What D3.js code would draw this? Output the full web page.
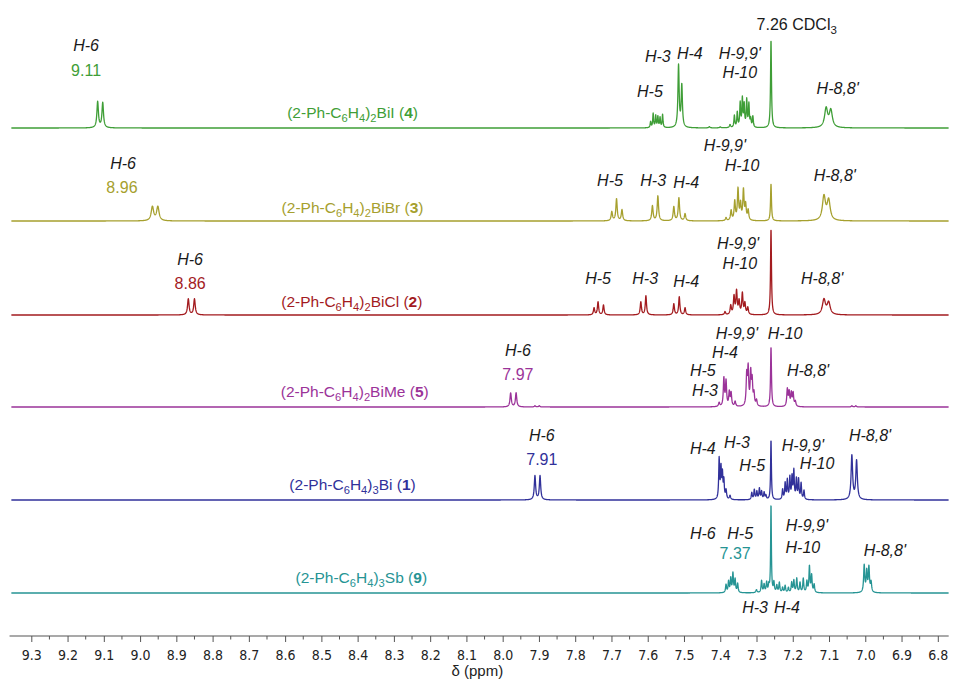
<!DOCTYPE html>
<html>
<head>
<meta charset="utf-8">
<title>1H NMR stack</title>
<script src="https://d3js.org/d3.v7.min.js"></script>
<style>
  body { margin: 0; background: #fff; }
  svg text { font-family: Arial, "Liberation Sans", sans-serif; }
  .hl { font-style: italic; font-size: 16px; fill: #1a1a1a; }
  .shift { font-size: 16px; }
  .solv { font-size: 16px; fill: #1a1a1a; }
  .cmpd { font-size: 15.5px; }
  .axis text { font-family: "DejaVu Sans Condensed", "DejaVu Sans", sans-serif; font-size: 14px; fill: #222; }
</style>
</head>
<body>
<svg id="chart" width="958" height="679"></svg>
<script>
// tick labels of the ppm axis
var ppmTicks = [9.3, 9.2, 9.1, 9.0, 8.9, 8.8, 8.7, 8.6, 8.5, 8.4, 8.3, 8.2, 8.1, 8.0,
                7.9, 7.8, 7.7, 7.6, 7.5, 7.4, 7.3, 7.2, 7.1, 7.0, 6.9, 6.8];

// compound names (_x = subscript, *x* = bold)
var compounds = ["(2-Ph-C_6H_4)_2BiI (*4*)", "(2-Ph-C_6H_4)_2BiBr (*3*)", "(2-Ph-C_6H_4)_2BiCl (*2*)",
                 "(2-Ph-C_6H_4)_2BiMe (*5*)", "(2-Ph-C_6H_4)_3Bi (*1*)", "(2-Ph-C_6H_4)_3Sb (*9*)"];

// peak lists: [ppm, intensity, half width (ppm)]
var peaksBiI = [[9.117,26,.0025],[9.103,25,.0025],
  [7.592,6,.0014],[7.585,14,.0014],[7.578,12,.0014],[7.572,11,.0014],[7.566,10,.0014],[7.559,13,.0014],
  [7.515,62,.002],[7.506,42,.002],[7.43,1.2,.002],[7.40,1,.002],
  [7.373,3,.002],[7.361,12,.0015],[7.353,15,.0015],[7.345,24,.0015],[7.339,28,.0015],[7.334,22,.0015],
  [7.327,27,.0015],[7.321,23,.0015],[7.316,8,.0015],[7.310,11,.0015],
  [7.260,88,.0015],[7.108,19,.005],[7.095,17,.005]];
var peaksBiBr = [[8.966,14,.004],[8.951,14,.004],
  [7.699,9,.0022],[7.686,22,.0022],[7.671,11,.0022],
  [7.587,15,.0022],[7.572,25,.0022],
  [7.528,14,.0022],[7.514,23,.0022],[7.497,7,.0022],
  [7.384,3,.002],[7.370,10,.002],[7.360,19,.002],[7.351,31,.002],[7.344,16,.002],[7.336,30,.002],[7.330,15,.002],[7.323,10,.002],
  [7.260,37,.0015],[7.114,24,.005],[7.101,20,.005]];
var peaksBiCl = [[8.867,16,.0025],[8.850,16,.0025],
  [7.748,7,.002],[7.737,13,.002],[7.722,10,.002],
  [7.619,13,.002],[7.605,19,.002],
  [7.528,11,.002],[7.513,18,.002],[7.497,7,.002],
  [7.387,3,.002],[7.371,9,.002],[7.362,18,.002],[7.355,23,.002],[7.348,13,.002],[7.339,21,.002],[7.332,11,.002],[7.324,7,.002],
  [7.260,86,.0015],[7.114,15,.005],[7.101,12,.005]];
var peaksBiMe = [[7.978,14,.0022],[7.963,14,.0022],[7.911,1.2,.002],[7.899,1.2,.002],
  [7.403,4,.002],[7.390,28,.0018],[7.384,25,.0018],[7.375,14,.0018],[7.370,13,.0018],[7.359,5,.002],
  [7.327,30,.0018],[7.323,36,.0018],[7.316,32,.0018],[7.312,24,.0018],[7.307,12,.0018],[7.300,6,.002],
  [7.260,60,.0015],
  [7.215,17,.0018],[7.210,14,.0018],[7.204,13,.0018],[7.199,13,.0018],[7.193,5,.002],
  [7.037,1.2,.002],[7.026,1.2,.002]];
var peaksBi = [[7.911,24,.0022],[7.897,24,.0022],
  [7.403,40,.0015],[7.398,30,.0015],[7.394,24,.0015],[7.390,18,.0015],[7.384,9,.0018],[7.373,4,.002],
  [7.313,7,.0016],[7.306,10,.0016],[7.299,8,.0016],[7.292,11,.0016],[7.286,8,.0016],[7.279,7,.0016],[7.274,4,.0016],
  [7.260,60,.0013],
  [7.228,10,.0015],[7.221,16,.0015],[7.215,19,.0015],[7.208,22,.0015],[7.202,22,.0015],[7.197,28,.0015],
  [7.190,20,.0015],[7.184,20,.0015],[7.177,16,.0015],[7.169,9,.0015],
  [7.037,44,.0025],[7.024,39,.0025]];
var peaksSb = [[7.384,8,.0016],[7.377,11,.0016],[7.371,14,.0016],[7.365,19,.0016],[7.359,13,.0016],[7.352,9,.0016],
  [7.300,3,.002],
  [7.286,12,.0016],[7.279,8,.0016],[7.272,10,.0016],[7.266,7,.0016],
  [7.260,88,.0012],
  [7.252,10,.0016],[7.244,7,.0016],[7.237,10,.0016],[7.228,5,.0016],[7.221,7,.0016],[7.212,5,.0016],
  [7.203,10,.0016],[7.197,12,.0016],[7.189,14,.0016],[7.180,10,.0016],[7.171,14,.0016],[7.161,11,.0016],
  [7.154,26,.0016],[7.148,17,.0016],[7.141,8,.0016],
  [7.003,27,.0018],[6.996,21,.0018],[6.990,25,.0018],[6.984,10,.0018]];

// assignments: [text, ppm, height above baseline, kind]  h = proton, s = shift, c = solvent
var notesBiI = [["H-6",9.149,83,"h"],["9.11",9.149,58,"s"],["H-5",7.594,37,"h"],["H-3",7.572,72,"h"],
  ["H-4",7.484,75,"h"],["H-9,9'",7.346,75,"h"],["H-10",7.346,56,"h"],["7.26 CDCl_3",7.189,104,"c"],["H-8,8'",7.076,40,"h"]];
var notesBiBr = [["H-6",9.047,58,"h"],["8.96",9.050,34,"s"],["H-5",7.704,41,"h"],["H-3",7.585,41,"h"],
  ["H-4",7.494,39,"h"],["H-9,9'",7.387,76,"h"],["H-10",7.340,56,"h"],["H-8,8'",7.084,46,"h"]];
var notesBiCl = [["H-6",8.862,56,"h"],["8.86",8.862,32,"s"],["H-5",7.737,37,"h"],["H-3",7.607,37,"h"],
  ["H-4",7.494,34,"h"],["H-9,9'",7.351,72,"h"],["H-10",7.346,52,"h"],["H-8,8'",7.119,37,"h"]];
var notesBiMe = [["H-6",7.958,57,"h"],["7.97",7.958,33,"s"],["H-9,9'",7.354,74,"h"],["H-10",7.221,74,"h"],
  ["H-4",7.387,55,"h"],["H-5",7.448,37,"h"],["H-3",7.442,17,"h"],["H-8,8'",7.158,37,"h"]];
var notesBi = [["H-6",7.892,65,"h"],["7.91",7.892,41,"s"],["H-4",7.448,52,"h"],["H-3",7.354,58,"h"],
  ["H-5",7.312,35,"h"],["H-9,9'",7.172,55,"h"],["H-10",7.133,37,"h"],["H-8,8'",6.987,65,"h"]];
var notesSb = [["H-6",7.448,60,"h"],["H-5",7.345,60,"h"],["7.37",7.359,40,"s"],["H-9,9'",7.161,68,"h"],
  ["H-10",7.172,46,"h"],["H-8,8'",6.946,43,"h"],["H-3",7.304,-14,"h"],["H-4",7.216,-14,"h"]];

// layout
var width = 958, height = 679;
var baselines = [128, 221, 315, 407, 500, 593];
var colors = ["#3f9e37", "#a6a02e", "#a31b1f", "#9b3399", "#31319a", "#269494"];
var labelPpm = [8.414, 8.414, 8.416, 8.408, 8.414, 8.390];
var labelRise = [10, 8, 8, 10, 10, 10];
var axisY = 636;

var svg = d3.select("#chart");
var x = d3.scaleLinear().domain([9.3, 6.8]).range([31.3, 937.8]);

var spectra = [peaksBiI, peaksBiBr, peaksBiCl, peaksBiMe, peaksBi, peaksSb];
var notes = [notesBiI, notesBiBr, notesBiCl, notesBiMe, notesBi, notesSb];

// sampling grid across the plotted window
var grid = d3.range(9.355, 6.770, -0.0004);
function lorentz(peaks) {
  return grid.map(function(p) {
    return [p, d3.sum(peaks, function(k) { return k[1] * k[2] * k[2] / ((p - k[0]) * (p - k[0]) + k[2] * k[2]); })];
  });
}

// writes "_x" as subscript and "*x*" as bold
function rich(sel, str) {
  var bold = false, lifted = 0;
  for (var i = 0; i < str.length; i++) {
    var c = str[i];
    if (c === "*") { bold = !bold; continue; }
    if (c === "_") {
      i++;
      sel.append("tspan").attr("dy", 4).attr("font-size", "0.72em").text(str[i]);
      lifted = -4;
      continue;
    }
    sel.append("tspan")
      .attr("dy", lifted || null)
      .attr("font-weight", bold ? "bold" : null)
      .text(c);
    lifted = 0;
  }
}

spectra.forEach(function(peaks, i) {
  var y = d3.scaleLinear().domain([0, 100]).range([baselines[i], baselines[i] - 100]);
  var line = d3.line().x(function(d) { return x(d[0]); }).y(function(d) { return y(d[1]); });

  svg.append("path")
    .datum(lorentz(peaks))
    .attr("d", line)
    .attr("fill", "none")
    .attr("stroke", colors[i])
    .attr("stroke-width", 1.3)
    .attr("stroke-linejoin", "round");

  var cl = svg.append("text")
    .attr("class", "cmpd")
    .attr("x", x(labelPpm[i]))
    .attr("y", y(labelRise[i]))
    .attr("text-anchor", "middle")
    .attr("fill", colors[i]);
  rich(cl, compounds[i]);

  notes[i].forEach(function(n) {
    var t = svg.append("text")
      .attr("x", x(n[1]))
      .attr("y", y(n[2]))
      .attr("dy", "0.35em")
      .attr("text-anchor", "middle")
      .attr("class", n[3] === "h" ? "hl" : (n[3] === "s" ? "shift" : "solv"))
      .attr("fill", n[3] === "s" ? colors[i] : null);
    rich(t, n[0]);
  });
});

// ppm axis
var minorTicks = ppmTicks.slice(1).map(function(t, i) { return (t + ppmTicks[i]) / 2; });
var ax = svg.append("g").attr("class", "axis").attr("transform", "translate(0," + axisY + ")");
ax.append("line")
  .attr("x1", x(9.36)).attr("x2", x(6.77))
  .attr("stroke", "#555").attr("stroke-width", 1.2);
ax.call(d3.axisBottom(x).tickValues(ppmTicks).tickSize(6).tickPadding(8).tickFormat(d3.format(".1f")));
ax.select(".domain").remove();
ax.selectAll(".tick line").attr("stroke", "#555");
ax.selectAll(".tick text").attr("font-family", null).attr("font-size", null);
ax.selectAll(".minor").data(minorTicks).enter().append("line")
  .attr("class", "minor")
  .attr("x1", function(d) { return x(d); }).attr("x2", function(d) { return x(d); })
  .attr("y1", 0).attr("y2", 3.5)
  .attr("stroke", "#555");

svg.append("text")
  .attr("x", x(8.07)).attr("y", 676)
  .attr("text-anchor", "middle")
  .attr("font-family", "DejaVu Sans Condensed, DejaVu Sans, sans-serif")
  .attr("font-size", 15)
  .attr("fill", "#222")
  .text("δ (ppm)");
</script>
</body>
</html>
